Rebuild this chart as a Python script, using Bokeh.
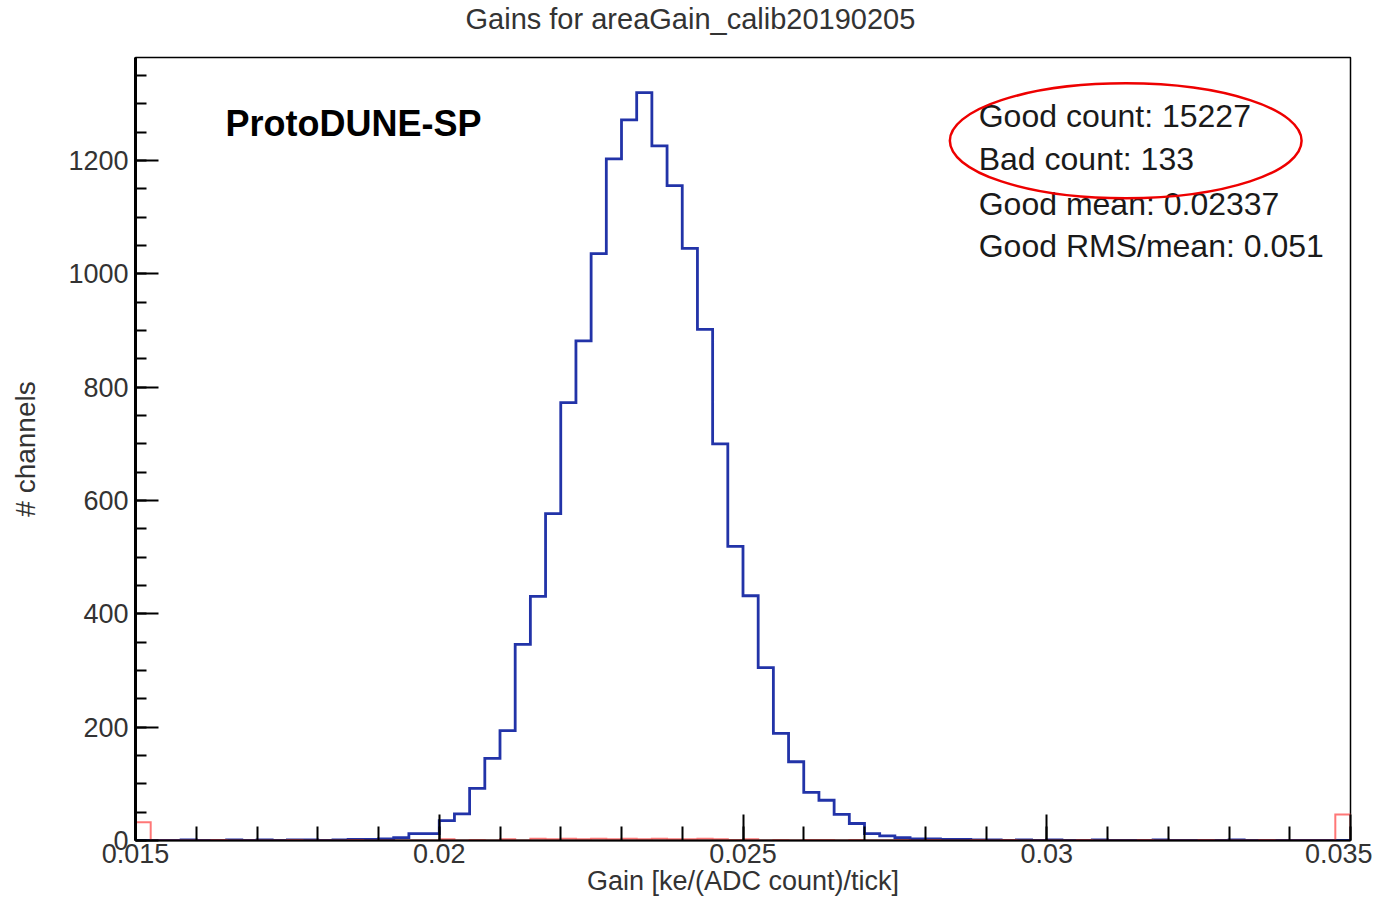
import numpy as np
from bokeh.plotting import figure
from bokeh.models import Range1d, SingleIntervalTicker, CustomJSTickFormatter, Title
from bokeh.embed import file_html
from bokeh.resources import INLINE
from bokeh.core.properties import value

# ---------------- data ----------------
x_min, x_max = 0.015, 0.035
n_bins = 80
y_max = 1382

good_counts = [
    0, 0, 0, 1, 0, 0, 1, 0, 1, 0, 1, 1, 0, 1, 2, 2, 3,
    5, 12, 12, 35, 47, 92, 145, 194, 346, 431, 577, 773, 882,
    1036, 1203, 1272, 1320, 1226, 1156, 1045, 902, 700, 519,
    432, 305, 189, 139, 85, 71, 46, 30, 12, 8,
    5, 3, 3, 2, 2, 1, 1, 0, 1, 0,
    1, 0, 0, 1, 0, 0, 0, 1, 0, 0,
    0, 0, 1, 0, 0, 0, 0, 0, 0, 0,
]
bad_counts = [
    32, 0, 0, 0, 0, 1, 0, 0, 0, 0, 1, 0, 0, 0, 1, 0, 0, 0, 0, 0,
    2, 0, 1, 0, 2, 0, 3, 2, 3, 2, 3, 2, 3, 2, 3, 2, 2, 3, 2, 1,
    2, 0, 1, 0, 1, 1, 0, 1, 0, 0, 1, 0, 1, 0, 0, 1, 0, 1, 0, 0,
    0, 0, 1, 0, 0, 0, 1, 0, 0, 0, 1, 0, 0, 0, 1, 0, 0, 0, 0, 46,
]

title_text = "Gains for areaGain_calib20190205"
x_title = "Gain [ke/(ADC count)/tick]"
y_title = "# channels"
experiment_label = "ProtoDUNE-SP"
stats_lines = ["Good count: 15227", "Bad count: 133",
               "Good mean: 0.02337", "Good RMS/mean: 0.051"]
stats_y = [1278, 1202, 1124, 1050]
stats_x = 0.02888
exp_x, exp_y = 0.01648, 1265
ellipse_x, ellipse_y, ellipse_w, ellipse_h = 0.03130, 1235, 0.00579, 203

FONT = "Liberation Sans"

edges = np.linspace(x_min, x_max, n_bins + 1)


def outline(counts):
    xs = np.repeat(edges, 2)
    ys = np.concatenate([[0], np.repeat(np.asarray(counts, float), 2), [0]])
    return xs, ys


p = figure(width=1372, height=901, output_backend="svg", toolbar_location=None,
           title_location=None,
           x_range=Range1d(x_min, x_max), y_range=Range1d(0, y_max),
           min_border_left=135, min_border_right=22, min_border_top=57,
           min_border_bottom=61)
p.background_fill_color = "white"
p.border_fill_color = "white"
p.outline_line_color = "black"
p.outline_line_width = 1.5
p.xgrid.visible = False
p.ygrid.visible = False

# spacer between frame and title, then the title itself
p.add_layout(Title(text=" ", text_font_size="1px", standoff=20), "above")
p.add_layout(Title(text=title_text, text_font=FONT, text_font_size="29px",
                   text_font_style="normal", text_color="#333333",
                   align="left", offset=330, standoff=0), "above")

# x axis
xa = p.xaxis[0]
xa.ticker = SingleIntervalTicker(interval=0.005, num_minor_ticks=5)
xa.formatter = CustomJSTickFormatter(code="return parseFloat(tick.toFixed(5)).toString();")
xa.axis_label = x_title
xa.axis_label_text_font = FONT
xa.axis_label_text_font_size = "27px"
xa.axis_label_text_font_style = "normal"
xa.axis_label_text_color = "#333333"
xa.axis_label_standoff = 0
xa.major_label_text_font = FONT
xa.major_label_text_font_size = "27px"
xa.major_label_text_color = "#333333"
xa.major_label_standoff = 3
xa.major_tick_in = 26
xa.major_tick_out = 0
xa.minor_tick_in = 14
xa.minor_tick_out = 0
xa.axis_line_color = "black"
xa.axis_line_width = 2
xa.major_tick_line_color = "black"
xa.major_tick_line_width = 2
xa.minor_tick_line_color = "black"
xa.minor_tick_line_width = 2

# y axis
ya = p.yaxis[0]
ya.ticker = SingleIntervalTicker(interval=200, num_minor_ticks=4)
ya.axis_label = y_title
ya.axis_label_text_font = FONT
ya.axis_label_text_font_size = "28px"
ya.axis_label_text_font_style = "normal"
ya.axis_label_text_color = "#333333"
ya.axis_label_standoff = 24
ya.major_label_text_font = FONT
ya.major_label_text_font_size = "27px"
ya.major_label_text_color = "#333333"
ya.major_label_standoff = 7
ya.major_tick_in = 23
ya.major_tick_out = 0
ya.minor_tick_in = 11
ya.minor_tick_out = 0
ya.axis_line_color = "black"
ya.axis_line_width = 3
ya.major_tick_line_color = "black"
ya.major_tick_line_width = 2
ya.minor_tick_line_color = "black"
ya.minor_tick_line_width = 2

# histograms
gx, gy = outline(good_counts)
p.line(gx, gy, line_color="#2233a8", line_width=2.8, line_join="miter")
bx, by = outline(bad_counts)
p.line(bx, by, line_color="#ff4a4a", line_width=2.0, line_alpha=0.75, line_join="miter")

# texts
p.text(x=[exp_x], y=[exp_y], text=[experiment_label], text_font=value(FONT),
       text_font_size="36px", text_font_style="bold", text_color="black",
       text_baseline="middle", text_align="left")
p.text(x=[stats_x] * len(stats_lines), y=stats_y, text=stats_lines, text_font=value(FONT),
       text_font_size="32px", text_color="#1a1a1a",
       text_baseline="middle", text_align="left")
p.ellipse(x=[ellipse_x], y=[ellipse_y], width=[ellipse_w], height=[ellipse_h],
          fill_color=None, line_color="#ee0000", line_width=2.5)

open("out.html", "w").write(file_html(p, INLINE))
